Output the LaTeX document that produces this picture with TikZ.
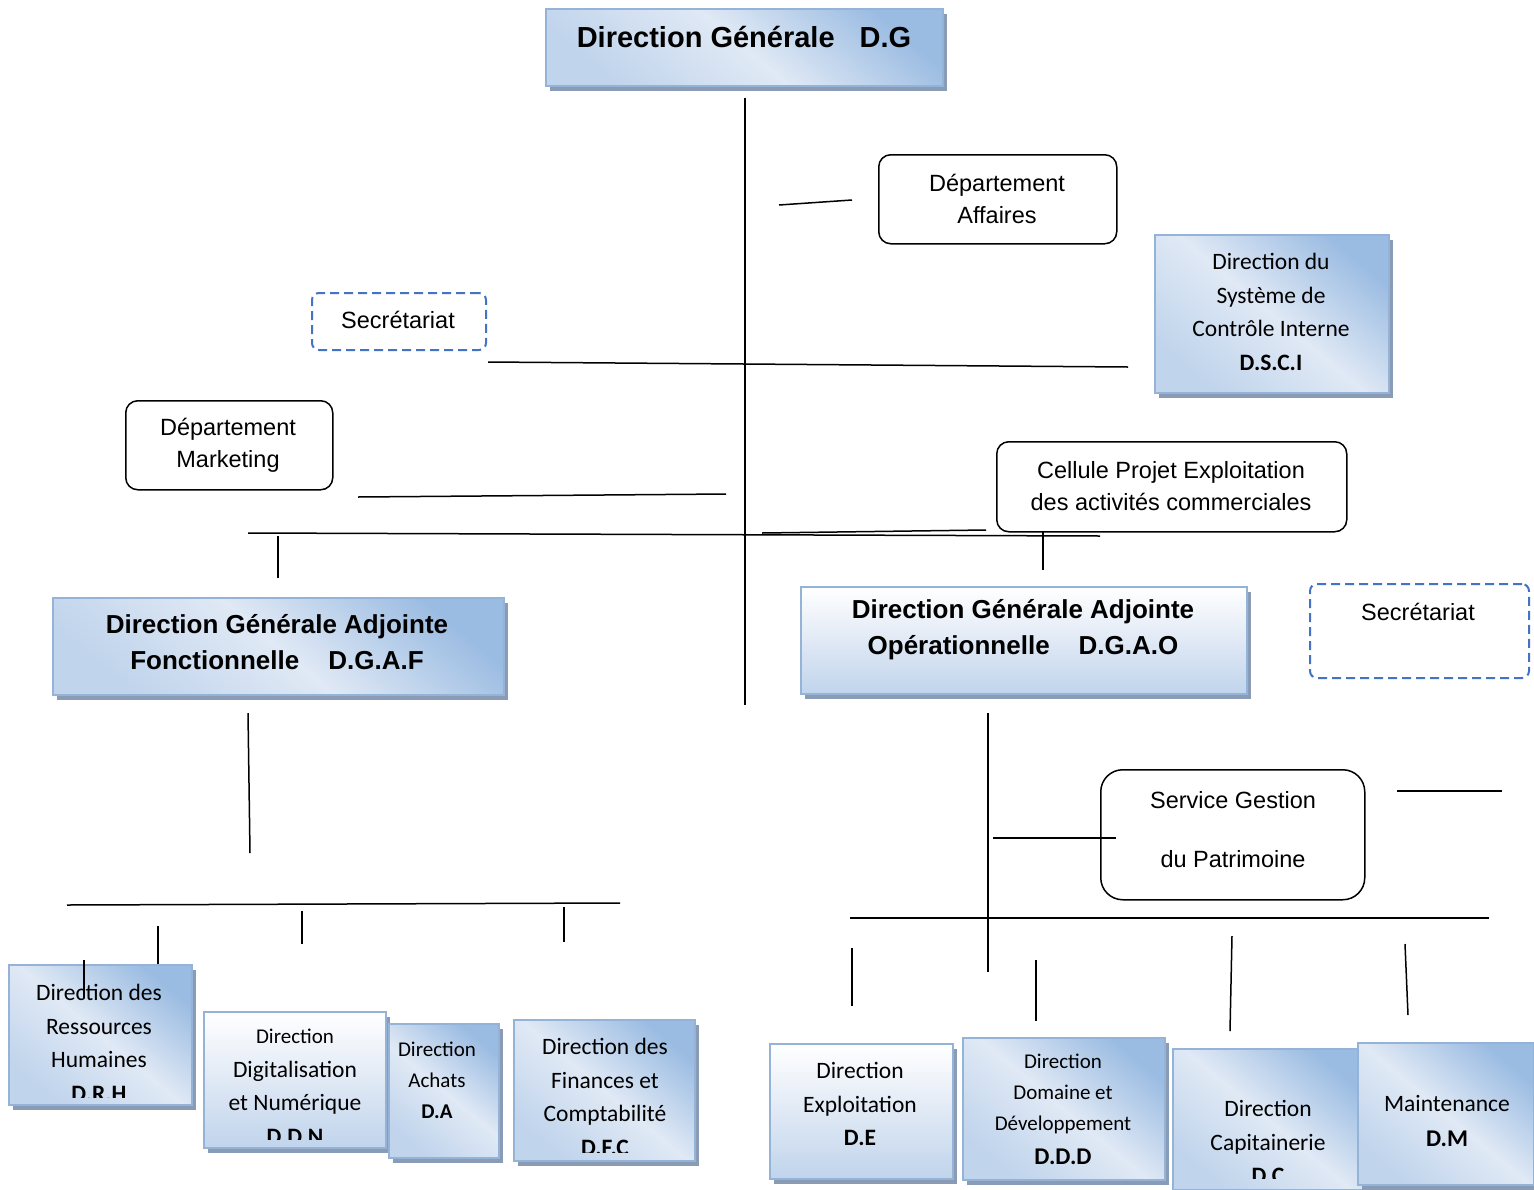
\documentclass[tikz,border=0pt]{standalone}
\usepackage{fontspec}
\setmainfont{Liberation Sans}
\newfontfamily\calfont{Carlito}
\usetikzlibrary{shadows}
\definecolor{bord}{HTML}{95B3D7}
\definecolor{shad}{HTML}{8A9BB5}
\definecolor{gdark}{HTML}{9BBCE2}
\definecolor{glight}{HTML}{E0E9F5}
\definecolor{gmid}{HTML}{C0D4EC}
\definecolor{dashb}{HTML}{4472C4}
\tikzset{
 gbox/.style={draw=bord, line width=2pt, top color=gdark, bottom color=gmid, middle color=glight, shading angle=-40,
   general shadow={fill=shad, shadow xshift=4pt, shadow yshift=-5pt}, inner sep=0pt, anchor=north west},
 vbox/.style={gbox, top color=white, bottom color=gmid, middle color=glight, shading angle=0},
 rbox/.style={draw=black, line width=1.5pt, rounded corners=12pt, fill=white, inner sep=0pt, anchor=north west},
 dbox/.style={draw=dashb, line width=2pt, dash pattern=on 9pt off 5pt, rounded corners=7pt, inner sep=0pt, anchor=north west},
 ln/.style={line width=1.5pt, black},
 arl/.style={font=\fontsize{23.5}{32}\selectfont, align=center, inner sep=0pt},
 cal/.style={font=\calfont\fontsize{23.5}{33.5}\selectfont, align=center, inner sep=0pt},
 cals/.style={font=\calfont\fontsize{21}{31}\selectfont, align=center, inner sep=0pt},
 hd/.style={font=\bfseries\fontsize{26}{36}\selectfont, align=center, inner sep=0pt},
}
% clip to the inside of a box, the bottom edge raised by #2
\newcommand{\boxclip}[2]{\clip ([shift={(1pt,#2)}]#1.south west) rectangle ([shift={(-1pt,-1pt)}]#1.north east);}
\begin{document}
\begin{tikzpicture}[x=1pt,y=-1pt]
\useasboundingbox[fill=white] (0,0) rectangle (1534,1189);

% ---- coordinates for free connector ends
\coordinate (v0a) at (745,98);   \coordinate (v0b) at (745,705);
\coordinate (aa) at (779,205);   \coordinate (ab) at (852,200);
\coordinate (sa) at (488,362);   \coordinate (sb) at (1128,367);
\coordinate (ma) at (358,497);   \coordinate (mb) at (726,494);
\coordinate (ca) at (762,533);   \coordinate (cb) at (986,530);
\coordinate (ha) at (248,533);   \coordinate (hb) at (1100,536);
\coordinate (fa) at (278,536);   \coordinate (fb) at (278,578);
\coordinate (oa) at (1043,531);  \coordinate (ob) at (1043,570);
\coordinate (la) at (248,713);   \coordinate (lb) at (250,853);
\coordinate (lha) at (67,905);   \coordinate (lhb) at (620,903);
\coordinate (l1a) at (158,926);  \coordinate (l1b) at (158,965);
\coordinate (l0a) at (84,960);   \coordinate (l0b) at (84,998);
\coordinate (l2a) at (302,911);  \coordinate (l2b) at (302,944);
\coordinate (l3a) at (564,907);  \coordinate (l3b) at (564,942);
\coordinate (ra) at (988,713);   \coordinate (rb) at (988,972);
\coordinate (pa) at (993,838);   \coordinate (pb) at (1116,838);
\coordinate (qa) at (1397,791);  \coordinate (qb) at (1502,791);
\coordinate (rha) at (850,918);  \coordinate (rhb) at (1489,918);
\coordinate (r1a) at (852,948);  \coordinate (r1b) at (852,1006);
\coordinate (r2a) at (1036,960); \coordinate (r2b) at (1036,1021);
\coordinate (r3a) at (1232,936); \coordinate (r3b) at (1230,1031);
\coordinate (r4a) at (1405,944); \coordinate (r4b) at (1408,1015);

% ---- lines
\draw[ln] (v0a) -- (v0b);
\draw[ln] (aa) -- (ab);
\draw[ln] (sa) -- (sb);
\draw[ln] (ma) -- (mb);
\draw[ln] (ca) -- (cb);
\draw[ln] (ha) -- (hb);
\draw[ln] (fa) -- (fb);
\draw[ln] (oa) -- (ob);
\draw[ln] (la) -- (lb);
\draw[ln] (lha) -- (lhb);
\draw[ln] (l1a) -- (l1b);
\draw[ln] (l2a) -- (l2b);
\draw[ln] (l3a) -- (l3b);
\draw[ln] (ra) -- (rb);
\draw[ln] (qa) -- (qb);
\draw[ln] (rha) -- (rhb);
\draw[ln] (r1a) -- (r1b);
\draw[ln] (r2a) -- (r2b);
\draw[ln] (r3a) -- (r3b);
\draw[ln] (r4a) -- (r4b);

% ---- top
\node[gbox, minimum width=397pt, minimum height=77pt] (dg) at (545,8) {};
\node[font=\bfseries\fontsize{29}{34}\selectfont, inner sep=0pt] (dgt) at (744,37) {Direction Générale\hspace{25pt}D.G};

\node[rbox, minimum width=238pt, minimum height=89pt] (affb) at (878,154) {};
\node[arl] (afft) at (997,199) {Département\\Affaires};

\node[gbox, minimum width=234pt, minimum height=158pt] (dsci) at (1154,234) {};
\node[cal] (dscit) at (1271,312) {Direction du\\Système de\\Contrôle Interne\\\textbf{D.S.C.I}};

\node[dbox, minimum width=174pt, minimum height=57pt] (sec1) at (311,292) {};
\node[arl] (sec1t) at (398,320) {Secrétariat};

\node[rbox, minimum width=207pt, minimum height=89pt] (mktb) at (125,400) {};
\node[arl] (mktt) at (228,445) {Département\\Marketing};

\node[rbox, minimum width=350pt, minimum height=90pt] (celb) at (996,441) {};
\node[arl] (celt) at (1171,486) {Cellule Projet Exploitation\\des activités commerciales};

% ---- second level
\node[gbox, minimum width=451pt, minimum height=97pt] (dgaf) at (52,597) {};
\node[hd] (dgaft) at (277,642) {Direction Générale Adjointe\\Fonctionnelle\hspace{29pt}D.G.A.F};

\node[vbox, minimum width=446pt, minimum height=107pt] (dgao) at (800,586) {};
\node[hd] (dgaot) at (1023,630) {Direction Générale Adjointe\\Opérationnelle\hspace{29pt}D.G.A.O};

\node[dbox, minimum width=219pt, minimum height=94pt] (sec2) at (1309,583) {};
\node[arl] (sec2t) at (1418,612) {Secrétariat};

\node[rbox, rounded corners=22pt, minimum width=264pt, minimum height=130pt] (sgpb) at (1100,769) {};
\node[font=\fontsize{23.5}{29.5}\selectfont, align=center, inner sep=0pt] (sgpt) at (1233,830) {Service Gestion\\[29.5pt]du Patrimoine};
\draw[ln] (pa) -- (pb);

% ---- bottom left
\node[gbox, minimum width=183pt, minimum height=140pt] (drh) at (8,964) {};
\begin{scope}\boxclip{drh}{9pt}
\node[cal] (drht) at (99,1043) {Direction des\\Ressources\\Humaines\\\textbf{D.R.H}};
\end{scope}
\draw[ln] (l0a) -- (l0b);

\node[vbox, minimum width=182pt, minimum height=136pt] (ddn) at (203,1011) {};
\begin{scope}\boxclip{ddn}{10pt}
\node[cal] (ddnt) at (295,1087) {{\fontsize{21}{31}\selectfont Direction}\\Digitalisation\\et Numérique\\\textbf{D.D.N}};
\end{scope}

\node[gbox, minimum width=110pt, minimum height=134pt] (da) at (388,1023) {};
\node[cals] (dat) at (437,1080) {Direction\\Achats\\\textbf{D.A}};

\node[gbox, minimum width=181pt, minimum height=141pt] (dfc) at (513,1019) {};
\begin{scope}\boxclip{dfc}{10pt}
\node[cal] (dfct) at (605,1097) {Direction des\\Finances et\\Comptabilité\\\textbf{D.F.C}};
\end{scope}

% ---- bottom right
\node[vbox, minimum width=183pt, minimum height=135pt] (de) at (769,1043) {};
\node[cal] (det) at (860,1104) {Direction\\Exploitation\\\textbf{D.E}};

\node[gbox, minimum width=202pt, minimum height=142pt] (ddd) at (962,1037) {};
\node[cals] (dddt) at (1063,1109) {Direction\\Domaine et\\Développement\\[3pt]{\fontsize{24}{31}\selectfont\textbf{D.D.D}}};

\node[gbox, minimum width=190pt, minimum height=141pt] (dc) at (1172,1048) {};
\begin{scope}\clip (1173,1049) rectangle (1360,1178);
\node[cal] (dct) at (1268,1142) {Direction\\Capitainerie\\\textbf{D.C}};
\end{scope}

\node[gbox, minimum width=176pt, minimum height=142pt] (dm) at (1357,1042) {};
\node[cal] (dmt) at (1447,1121) {Maintenance\\[2pt]{\fontsize{24}{31}\selectfont\textbf{D.M}}};
\end{tikzpicture}
\end{document}
